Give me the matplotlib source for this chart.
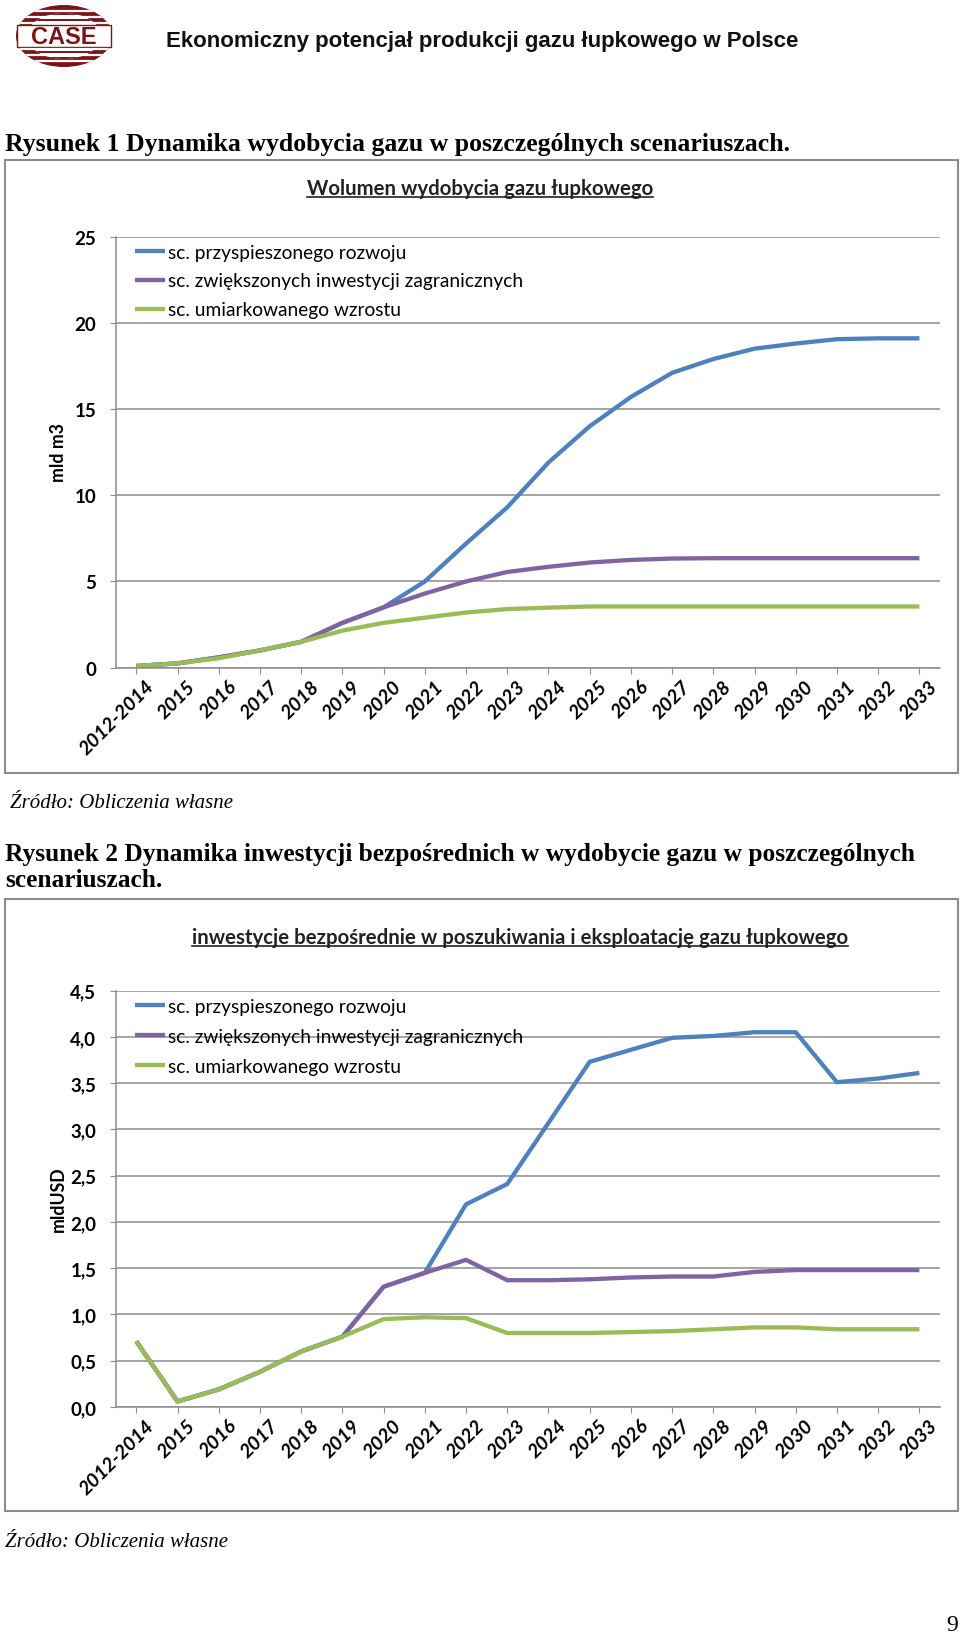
import numpy as np
import matplotlib
matplotlib.use('Agg')
import matplotlib.pyplot as plt
import matplotlib.transforms as mtransforms
from matplotlib.patches import Ellipse, Rectangle
from matplotlib.lines import Line2D

#%% data
YEARS = ['2012-2014', '2015', '2016', '2017', '2018', '2019', '2020', '2021', '2022',
         '2023', '2024', '2025', '2026', '2027', '2028', '2029', '2030', '2031',
         '2032', '2033']
LABELS = ['sc. przyspieszonego rozwoju',
          'sc. zwiększonych inwestycji zagranicznych',
          'sc. umiarkowanego wzrostu']
COLORS = ['#4F81BD', '#8064A2', '#9BBB59']

# wolumen wydobycia (mld m3)
VOL_FAST = [0.1, 0.25, 0.6, 1.0, 1.5, 2.6, 3.5, 5.0, 7.2, 9.3, 11.9, 14.0, 15.7,
            17.1, 17.9, 18.5, 18.8, 19.05, 19.1, 19.1]
VOL_FDI = [0.1, 0.25, 0.6, 1.0, 1.5, 2.6, 3.5, 4.3, 5.0, 5.55, 5.85, 6.1, 6.25,
           6.33, 6.35, 6.35, 6.35, 6.35, 6.35, 6.35]
VOL_MOD = [0.1, 0.25, 0.55, 1.0, 1.5, 2.15, 2.6, 2.9, 3.2, 3.4, 3.48, 3.55, 3.55,
           3.55, 3.55, 3.55, 3.55, 3.55, 3.55, 3.55]

# inwestycje bezposrednie (mld USD)
INV_FAST = [0.71, 0.06, 0.19, 0.38, 0.6, 0.76, 1.3, 1.45, 2.19, 2.41, 3.07, 3.73,
            3.86, 3.99, 4.01, 4.05, 4.05, 3.51, 3.55, 3.61]
INV_FDI = [0.71, 0.06, 0.19, 0.38, 0.6, 0.76, 1.3, 1.45, 1.59, 1.37, 1.37, 1.38,
           1.40, 1.41, 1.41, 1.46, 1.48, 1.48, 1.48, 1.48]
INV_MOD = [0.71, 0.06, 0.19, 0.38, 0.6, 0.76, 0.95, 0.97, 0.96, 0.8, 0.8, 0.8,
           0.81, 0.82, 0.84, 0.86, 0.86, 0.84, 0.84, 0.84]

#%%
W, H = 960, 1649
fig = plt.figure(figsize=(W / 100, H / 100), dpi=100)
CHART_FONT = ['Lato', 'DejaVu Sans']
SERIF = ['Liberation Serif', 'DejaVu Serif']


def fx(x):
    return x / W


def fy(y):
    return 1 - y / H


# logo
lax = fig.add_axes([fx(14), fy(70), fx(100), 66 / H])
lax.set_xlim(0, 100)
lax.set_ylim(0, 66)
lax.axis('off')
red = '#7A1416'
ell = Ellipse((50, 33), 96, 62, facecolor=red, edgecolor='none')
lax.add_patch(ell)
inner = Ellipse((50, 33), 74, 46, facecolor='white', edgecolor='none')
lax.add_patch(inner)
for yy in [8, 14, 20, 46, 52, 58]:
    ln = Line2D([0, 100], [yy, yy], color='white', lw=1.6)
    lax.add_line(ln)
    ln.set_clip_path(ell)
for yy in [11, 17, 49, 55]:
    ln = Line2D([0, 100], [yy, yy], color=red, lw=1.4)
    lax.add_line(ln)
    ln.set_clip_path(inner)
lax.add_patch(Rectangle((3, 22), 94, 22, facecolor='white', edgecolor=red, lw=1.0))
lax.text(50, 33, 'CASE', ha='center', va='center', color=red, fontsize=17,
         fontweight='bold', family=['Liberation Sans', 'DejaVu Sans'])

fig.text(fx(166), fy(42), 'Ekonomiczny potencjał produkcji gazu łupkowego w Polsce',
         fontsize=16, fontweight='bold', va='center', color='#111111',
         family=['Liberation Sans Narrow', 'Liberation Sans', 'DejaVu Sans'])

fig.text(fx(5), fy(144), 'Rysunek 1 Dynamika wydobycia gazu w poszczególnych scenariuszach.',
         fontsize=18.5, fontweight='bold', va='center', family=SERIF)
fig.text(fx(10), fy(803), 'Źródło: Obliczenia własne', fontsize=15, style='italic',
         va='center', family=SERIF)
fig.text(fx(5), fy(855), 'Rysunek 2 Dynamika inwestycji bezpośrednich w wydobycie gazu w poszczególnych',
         fontsize=18.3, fontweight='bold', va='center', family=SERIF)
fig.text(fx(5), fy(881), 'scenariuszach.', fontsize=18.3, fontweight='bold', va='center',
         family=SERIF)
fig.text(fx(5), fy(1543), 'Źródło: Obliczenia własne', fontsize=15, style='italic',
         va='center', family=SERIF)
fig.text(fx(958), fy(1626), '9', fontsize=17, ha='right', va='center', family=SERIF)

# chart frames
for top, bot in [(161, 774), (900, 1512)]:
    fig.patches.append(Rectangle((fx(5), fy(bot)), fx(953), (bot - top) / H,
                                 transform=fig.transFigure, fill=False,
                                 edgecolor='#8c8c8c', lw=1.5))

titles = []


def chart(top, bot, series, ymax, step, fmt, ylabel, ylab_y, title, title_x, title_y,
          leg_top, leg_space):
    ax = fig.add_axes([fx(115.7), fy(bot), fx(940 - 115.7), (bot - top) / H])
    x = np.arange(len(YEARS))
    for s, c, lab in zip(series, COLORS, LABELS):
        ax.plot(x, s, color=c, lw=3.1, label=lab, solid_capstyle='butt')
    ax.set_xlim(-0.5, len(YEARS) - 0.5)
    ax.set_ylim(0, ymax)
    yt = np.arange(0, ymax + step / 2, step)
    ax.set_yticks(yt)
    ax.set_yticklabels([fmt(v) for v in yt], fontweight='bold', fontsize=13.5,
                       family=CHART_FONT)
    ax.yaxis.grid(True, color='#8c8c8c', lw=1.1)
    ax.set_axisbelow(True)
    for sp in ['top', 'right']:
        ax.spines[sp].set_visible(False)
    for sp in ['left', 'bottom']:
        ax.spines[sp].set_color('#8c8c8c')
        ax.spines[sp].set_linewidth(1.1)
    ax.tick_params(axis='y', length=4, color='#8c8c8c', pad=10)
    ax.tick_params(axis='x', length=4, color='#8c8c8c', pad=7)
    ax.set_xticks(x)
    ax.set_xticklabels(YEARS, rotation=45, ha='right', va='center', rotation_mode='anchor',
                       fontweight='bold', style='italic', fontsize=14, family=CHART_FONT)
    off = mtransforms.ScaledTranslation(11 / 72, 0, fig.dpi_scale_trans)
    for lb in ax.get_xticklabels():
        lb.set_transform(lb.get_transform() + off)
    ax.legend(loc='upper left', frameon=False, borderpad=0, borderaxespad=0,
              handlelength=1.6, handletextpad=0.12, labelspacing=leg_space,
              prop={'family': CHART_FONT, 'size': 13.8},
              bbox_to_anchor=(19 / 824, 1 - leg_top / (bot - top)))
    fig.text(fx(58), fy(ylab_y), ylabel, rotation=90, ha='center', va='center',
             fontweight='bold', fontsize=12.8, family=CHART_FONT)
    t = fig.text(fx(title_x), fy(title_y), title, ha='center', va='center',
                 fontweight='bold', fontsize=14.7, family=CHART_FONT, color='#222222')
    titles.append(t)
    return ax


ax1 = chart(237.6, 668.7, [VOL_FAST, VOL_FDI, VOL_MOD], 25, 5, lambda v: '%d' % v,
            'mld m3', 452, 'Wolumen wydobycia gazu łupkowego', 480, 189, 7, 0.62)
ax2 = chart(991.6, 1408, [INV_FAST, INV_FDI, INV_MOD], 4.5, 0.5,
            lambda v: ('%.1f' % v).replace('.', ','), 'mldUSD', 1199,
            'inwestycje bezpośrednie w poszukiwania i eksploatację gazu łupkowego',
            520, 938, 7, 0.69)

# underline chart titles
fig.canvas.draw()
r = fig.canvas.get_renderer()
for t in titles:
    bb = t.get_window_extent(r)
    fig.add_artist(Line2D([bb.x0, bb.x1], [bb.y0 + 1, bb.y0 + 1],
                          transform=mtransforms.IdentityTransform(),
                          color='#222222', lw=1.2))

fig.savefig('out.png', dpi=100)
